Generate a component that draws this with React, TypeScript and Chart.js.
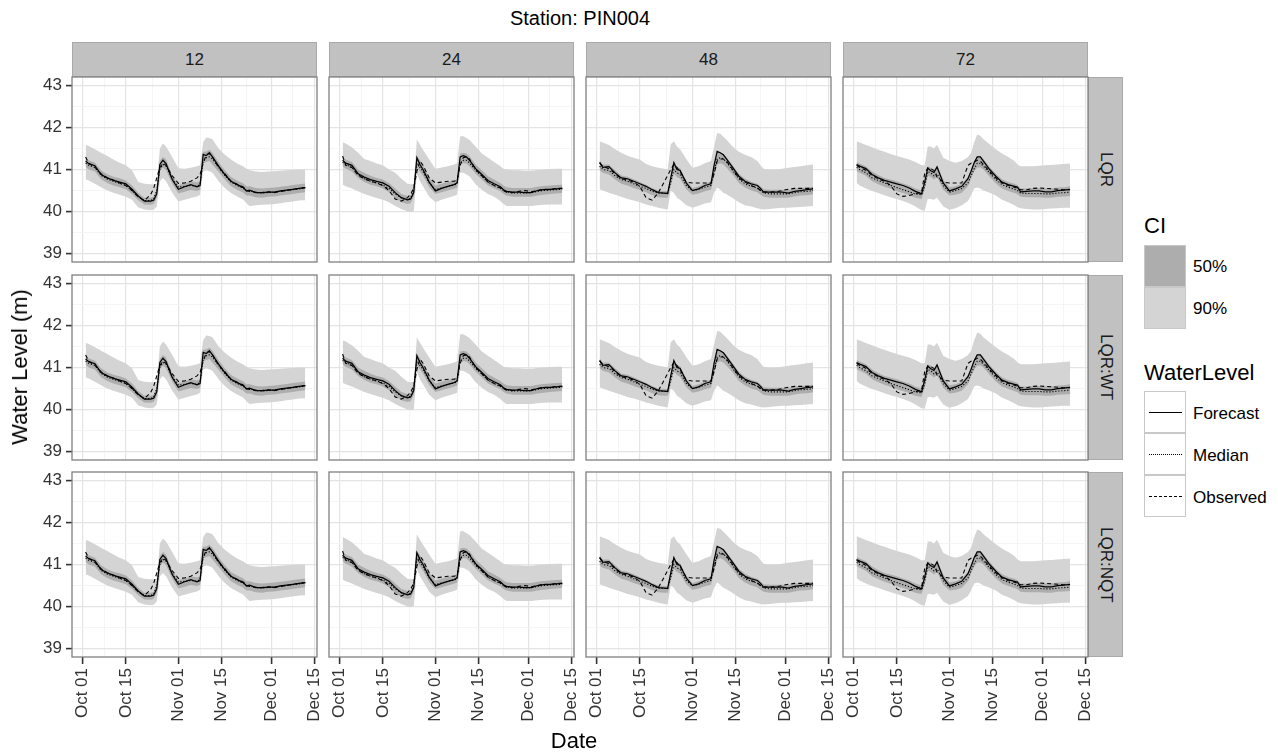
import React, { useEffect, useRef } from "react";
import { Chart, registerables } from "chart.js";

Chart.register(...registerables);

const FONT = '"Liberation Sans", Arial, Helvetica, sans-serif';

// ---------------- data ----------------
const TITLE = "Station: PIN004";
const LEADS = ["12", "24", "48", "72"];
const MODELS = ["LQR", "LQR:WT", "LQR:NQT"];

// days after Oct 01
const DAYS = [
  1, 2, 4, 6, 8, 10, 12, 14, 16, 18,
  20, 22, 23, 24, 25, 26, 27, 29, 31, 33,
  35, 37, 38, 39, 40, 41, 42, 44, 46, 48,
  50, 52, 53, 54, 56, 58, 60, 62, 64, 66,
  68, 70, 72,
];

const X_TICK_VALUES = [0, 14, 31, 45, 61, 75];
const X_TICK_LABELS = ["Oct 01", "Oct 15", "Nov 01", "Nov 15", "Dec 01", "Dec 15"];
const X_MINOR = [7, 22.5, 38, 53, 68];
const Y_TICK_VALUES = [39, 40, 41, 42, 43];
const Y_MINOR = [39.5, 40.5, 41.5, 42.5];

// lead 12
const FC_12 = [41.20, 41.14, 41.09, 40.88, 40.80, 40.74, 40.70, 40.66, 40.53, 40.37, 40.25, 40.25, 40.27, 40.42, 41.12, 41.22, 41.14, 40.76, 40.53, 40.59, 40.64, 40.59, 40.62, 41.36, 41.33, 41.40, 41.30, 41.08, 40.88, 40.72, 40.64, 40.57, 40.49, 40.51, 40.45, 40.45, 40.46, 40.46, 40.49, 40.51, 40.53, 40.55, 40.57];
const MED_12 = [41.15, 41.10, 41.05, 40.86, 40.77, 40.72, 40.67, 40.62, 40.50, 40.35, 40.26, 40.26, 40.30, 40.50, 41.00, 41.12, 41.08, 40.78, 40.58, 40.60, 40.62, 40.60, 40.65, 41.20, 41.28, 41.30, 41.25, 41.05, 40.86, 40.70, 40.62, 40.55, 40.50, 40.50, 40.45, 40.44, 40.45, 40.46, 40.48, 40.50, 40.52, 40.54, 40.56];
const OBS_12 = [41.30, 41.15, 41.05, 40.90, 40.80, 40.75, 40.68, 40.62, 40.50, 40.35, 40.26, 40.40, 40.55, 40.80, 41.05, 41.15, 41.10, 40.85, 40.67, 40.68, 40.72, 40.80, 40.88, 41.15, 41.35, 41.38, 41.30, 41.05, 40.90, 40.72, 40.65, 40.58, 40.50, 40.48, 40.46, 40.45, 40.47, 40.45, 40.48, 40.50, 40.53, 40.55, 40.57];
const HI90_12 = [41.59, 41.56, 41.48, 41.40, 41.32, 41.24, 41.16, 41.10, 40.98, 40.70, 40.66, 40.65, 40.65, 40.66, 41.50, 41.62, 41.55, 41.30, 41.03, 41.02, 41.04, 41.08, 41.10, 41.65, 41.76, 41.75, 41.72, 41.50, 41.35, 41.24, 41.14, 41.07, 41.02, 40.98, 40.95, 40.94, 40.95, 40.96, 40.97, 40.98, 40.99, 41.00, 41.00];
const LO90_12 = [40.77, 40.74, 40.66, 40.58, 40.50, 40.45, 40.40, 40.35, 40.28, 40.10, 40.05, 40.03, 40.04, 40.12, 40.72, 40.80, 40.72, 40.45, 40.24, 40.28, 40.32, 40.36, 40.40, 40.95, 40.98, 40.96, 40.92, 40.72, 40.56, 40.44, 40.36, 40.28, 40.20, 40.13, 40.15, 40.16, 40.17, 40.18, 40.20, 40.22, 40.24, 40.26, 40.27];
const HI50_12 = [41.28, 41.22, 41.16, 40.98, 40.89, 40.83, 40.79, 40.74, 40.62, 40.45, 40.33, 40.33, 40.35, 40.52, 41.20, 41.30, 41.24, 40.86, 40.63, 40.67, 40.72, 40.69, 40.72, 41.42, 41.43, 41.47, 41.40, 41.17, 40.98, 40.82, 40.74, 40.67, 40.60, 40.60, 40.56, 40.55, 40.56, 40.57, 40.59, 40.61, 40.63, 40.65, 40.67];
const LO50_12 = [41.06, 41.00, 40.95, 40.77, 40.68, 40.62, 40.58, 40.53, 40.42, 40.27, 40.17, 40.16, 40.18, 40.33, 40.95, 41.05, 40.98, 40.66, 40.43, 40.47, 40.51, 40.49, 40.52, 41.14, 41.18, 41.20, 41.12, 40.94, 40.76, 40.60, 40.52, 40.45, 40.38, 40.38, 40.34, 40.33, 40.35, 40.36, 40.38, 40.40, 40.42, 40.44, 40.46];

// lead 24
const FC_24 = [41.22, 41.15, 41.10, 40.90, 40.82, 40.76, 40.72, 40.68, 40.60, 40.45, 40.33, 40.28, 40.30, 40.45, 41.28, 41.12, 41.00, 40.70, 40.49, 40.55, 40.60, 40.64, 40.68, 41.30, 41.33, 41.30, 41.22, 41.02, 40.88, 40.74, 40.66, 40.59, 40.52, 40.48, 40.46, 40.46, 40.45, 40.45, 40.50, 40.52, 40.53, 40.54, 40.55];
const MED_24 = [41.17, 41.12, 41.05, 40.88, 40.78, 40.72, 40.68, 40.63, 40.55, 40.42, 40.32, 40.28, 40.32, 40.55, 41.15, 41.05, 40.95, 40.68, 40.52, 40.56, 40.60, 40.63, 40.66, 41.15, 41.22, 41.22, 41.16, 40.98, 40.85, 40.70, 40.62, 40.55, 40.50, 40.47, 40.44, 40.44, 40.44, 40.45, 40.48, 40.50, 40.51, 40.52, 40.53];
const OBS_24 = [41.32, 41.10, 41.05, 40.86, 40.78, 40.72, 40.68, 40.62, 40.50, 40.30, 40.25, 40.33, 40.42, 40.55, 40.95, 41.20, 41.10, 40.80, 40.68, 40.70, 40.72, 40.72, 40.74, 41.10, 41.28, 41.30, 41.25, 41.00, 40.85, 40.70, 40.62, 40.56, 40.50, 40.46, 40.45, 40.48, 40.50, 40.47, 40.50, 40.53, 40.52, 40.55, 40.55];
const HI90_24 = [41.65, 41.62, 41.53, 41.40, 41.25, 41.20, 41.14, 41.10, 41.00, 40.92, 40.78, 40.66, 40.65, 40.66, 41.72, 41.59, 41.47, 41.24, 41.02, 41.05, 41.08, 41.12, 41.15, 41.79, 41.79, 41.75, 41.70, 41.55, 41.38, 41.28, 41.18, 41.08, 41.02, 41.00, 40.98, 40.98, 40.97, 40.97, 40.99, 41.00, 41.01, 41.02, 41.02];
const LO90_24 = [40.64, 40.60, 40.55, 40.48, 40.42, 40.37, 40.32, 40.28, 40.22, 40.13, 40.06, 40.00, 39.99, 40.00, 40.90, 40.72, 40.60, 40.35, 40.22, 40.28, 40.33, 40.37, 40.40, 40.92, 40.92, 40.88, 40.84, 40.65, 40.52, 40.42, 40.35, 40.25, 40.18, 40.13, 40.13, 40.13, 40.13, 40.13, 40.15, 40.16, 40.17, 40.17, 40.17];
const HI50_24 = [41.30, 41.24, 41.18, 41.00, 40.92, 40.85, 40.80, 40.76, 40.68, 40.55, 40.42, 40.37, 40.38, 40.52, 41.32, 41.22, 41.10, 40.80, 40.62, 40.66, 40.70, 40.74, 40.77, 41.38, 41.40, 41.38, 41.32, 41.12, 40.98, 40.84, 40.76, 40.68, 40.62, 40.58, 40.56, 40.56, 40.56, 40.56, 40.59, 40.61, 40.62, 40.63, 40.64];
const LO50_24 = [41.08, 41.02, 40.95, 40.80, 40.70, 40.64, 40.60, 40.55, 40.46, 40.33, 40.22, 40.18, 40.20, 40.35, 41.05, 40.95, 40.85, 40.58, 40.42, 40.46, 40.50, 40.54, 40.57, 41.12, 41.15, 41.14, 41.08, 40.90, 40.76, 40.62, 40.55, 40.48, 40.42, 40.38, 40.35, 40.35, 40.35, 40.35, 40.38, 40.40, 40.42, 40.43, 40.44];

// lead 48
const FC_48 = [41.17, 41.05, 41.07, 40.92, 40.80, 40.78, 40.72, 40.66, 40.60, 40.52, 40.45, 40.44, 40.43, 40.80, 41.16, 41.00, 40.98, 40.68, 40.50, 40.54, 40.62, 40.66, 41.10, 41.43, 41.40, 41.35, 41.25, 41.05, 40.84, 40.72, 40.66, 40.62, 40.55, 40.46, 40.46, 40.46, 40.46, 40.44, 40.48, 40.50, 40.52, 40.54, null];
const MED_48 = [41.08, 41.00, 40.98, 40.85, 40.76, 40.72, 40.66, 40.60, 40.55, 40.48, 40.44, 40.43, 40.43, 40.70, 41.00, 40.92, 40.88, 40.62, 40.50, 40.53, 40.58, 40.62, 40.95, 41.25, 41.28, 41.25, 41.18, 40.98, 40.78, 40.66, 40.60, 40.56, 40.50, 40.45, 40.42, 40.42, 40.42, 40.42, 40.45, 40.47, 40.48, 40.50, null];
const OBS_48 = [41.15, 41.08, 41.02, 40.90, 40.78, 40.75, 40.70, 40.60, 40.33, 40.27, 40.45, 40.72, 40.86, 41.00, 41.12, 41.05, 40.95, 40.70, 40.68, 40.68, 40.68, 40.68, 40.90, 41.20, 41.25, 41.25, 41.20, 41.00, 40.80, 40.70, 40.62, 40.56, 40.50, 40.47, 40.46, 40.47, 40.50, 40.53, 40.55, 40.55, 40.55, 40.55, null];
const HI90_48 = [41.67, 41.64, 41.58, 41.48, 41.40, 41.33, 41.28, 41.24, 41.13, 41.08, 41.04, 41.02, 41.00, 41.60, 41.67, 41.55, 41.48, 41.25, 41.04, 41.08, 41.15, 41.20, 41.55, 41.87, 41.85, 41.78, 41.71, 41.55, 41.42, 41.35, 41.30, 41.20, 41.10, 41.02, 41.00, 41.00, 41.02, 41.04, 41.06, 41.08, 41.10, 41.12, null];
const LO90_48 = [40.53, 40.50, 40.45, 40.40, 40.35, 40.30, 40.26, 40.22, 40.17, 40.13, 40.09, 40.06, 40.05, 40.50, 40.45, 40.33, 40.28, 40.15, 40.09, 40.14, 40.19, 40.22, 40.45, 40.57, 40.52, 40.45, 40.41, 40.32, 40.22, 40.15, 40.12, 40.08, 40.06, 40.05, 40.06, 40.08, 40.09, 40.09, 40.10, 40.11, 40.12, 40.13, null];
const HI50_48 = [41.22, 41.12, 41.12, 40.98, 40.86, 40.83, 40.77, 40.70, 40.64, 40.56, 40.50, 40.49, 40.48, 40.85, 41.22, 41.06, 41.03, 40.74, 40.56, 40.60, 40.67, 40.71, 41.12, 41.42, 41.40, 41.37, 41.30, 41.10, 40.90, 40.78, 40.71, 40.66, 40.60, 40.53, 40.52, 40.52, 40.52, 40.51, 40.54, 40.56, 40.57, 40.59, null];
const LO50_48 = [40.98, 40.92, 40.88, 40.76, 40.66, 40.62, 40.56, 40.51, 40.46, 40.39, 40.34, 40.33, 40.33, 40.60, 40.90, 40.82, 40.78, 40.53, 40.40, 40.43, 40.48, 40.52, 40.82, 41.12, 41.15, 41.12, 41.05, 40.88, 40.68, 40.57, 40.50, 40.46, 40.40, 40.35, 40.33, 40.33, 40.33, 40.33, 40.36, 40.38, 40.39, 40.41, null];

// lead 72
const FC_72 = [41.12, 41.08, 41.02, 40.88, 40.80, 40.74, 40.70, 40.66, 40.62, 40.56, 40.48, 40.42, 40.70, 41.03, 40.97, 40.93, 41.06, 40.68, 40.49, 40.54, 40.60, 40.78, 40.96, 41.16, 41.30, 41.30, 41.20, 41.00, 40.84, 40.70, 40.64, 40.60, 40.58, 40.47, 40.48, 40.49, 40.49, 40.47, 40.47, 40.50, 40.51, 40.53, null];
const MED_72 = [41.05, 41.00, 40.92, 40.80, 40.74, 40.68, 40.62, 40.57, 40.52, 40.47, 40.42, 40.40, 40.60, 40.95, 40.92, 40.85, 40.90, 40.62, 40.46, 40.50, 40.55, 40.68, 40.85, 41.02, 41.15, 41.15, 41.08, 40.92, 40.76, 40.64, 40.58, 40.53, 40.50, 40.44, 40.43, 40.43, 40.43, 40.42, 40.42, 40.44, 40.45, 40.46, null];
const OBS_72 = [41.10, 41.05, 40.98, 40.86, 40.78, 40.72, 40.62, 40.42, 40.36, 40.38, 40.42, 40.46, 40.90, 41.04, 41.02, 40.98, 40.82, 40.70, 40.68, 40.68, 40.68, 41.10, 41.15, 41.18, 41.22, 41.20, 41.12, 40.95, 40.80, 40.68, 40.62, 40.58, 40.55, 40.52, 40.52, 40.55, 40.56, 40.55, 40.54, 40.53, 40.52, 40.52, null];
const HI90_72 = [41.67, 41.64, 41.58, 41.53, 41.47, 41.42, 41.37, 41.32, 41.28, 41.24, 41.18, 41.10, 41.10, 41.55, 41.55, 41.50, 41.59, 41.28, 41.20, 41.16, 41.20, 41.30, 41.40, 41.65, 41.83, 41.80, 41.72, 41.60, 41.48, 41.38, 41.30, 41.20, 41.12, 41.08, 41.08, 41.08, 41.09, 41.10, 41.11, 41.12, 41.13, 41.14, null];
const LO90_72 = [40.68, 40.62, 40.55, 40.49, 40.44, 40.39, 40.34, 40.30, 40.25, 40.20, 40.12, 40.03, 40.02, 40.30, 40.30, 40.28, 40.33, 40.12, 40.04, 40.08, 40.15, 40.25, 40.38, 40.55, 40.57, 40.55, 40.50, 40.45, 40.38, 40.28, 40.22, 40.15, 40.10, 40.08, 40.06, 40.05, 40.05, 40.06, 40.07, 40.08, 40.09, 40.09, null];
const HI50_72 = [41.18, 41.14, 41.08, 40.95, 40.87, 40.80, 40.76, 40.72, 40.67, 40.62, 40.55, 40.50, 40.75, 41.08, 41.04, 40.98, 41.10, 40.76, 40.58, 40.60, 40.66, 40.82, 41.00, 41.18, 41.32, 41.33, 41.25, 41.06, 40.90, 40.77, 40.70, 40.66, 40.63, 40.55, 40.55, 40.56, 40.56, 40.55, 40.55, 40.57, 40.58, 40.60, null];
const LO50_72 = [40.96, 40.92, 40.85, 40.72, 40.65, 40.59, 40.54, 40.48, 40.44, 40.39, 40.33, 40.30, 40.52, 40.85, 40.82, 40.76, 40.82, 40.52, 40.38, 40.40, 40.45, 40.60, 40.78, 40.95, 41.05, 41.05, 41.00, 40.83, 40.67, 40.55, 40.49, 40.44, 40.41, 40.35, 40.34, 40.34, 40.34, 40.33, 40.33, 40.35, 40.36, 40.37, null];

const FORECAST = [FC_12, FC_24, FC_48, FC_72];
const MEDIAN = [MED_12, MED_24, MED_48, MED_72];
const OBSERVED = [OBS_12, OBS_24, OBS_48, OBS_72];
const HI90 = [HI90_12, HI90_24, HI90_48, HI90_72];
const LO90 = [LO90_12, LO90_24, LO90_48, LO90_72];
const HI50 = [HI50_12, HI50_24, HI50_48, HI50_72];
const LO50 = [LO50_12, LO50_24, LO50_48, LO50_72];

// ---------------- layout / style ----------------
const X_MIN = -3.4;
const X_MAX = 75.8;
const Y_MIN = 38.8;
const Y_MAX = 43.2;
const PLOT_W = 245;
const PLOT_H = 185;
const COL_X = [72, 329, 586, 843];
const ROW_Y = [77, 275, 472];
const Y_AXIS_W = 72;
const X_AXIS_H = 72;
const PAD = 2;
const C90 = "#d4d4d4";
const C50 = "#adadad";
const STRIP_BG = "#c1c1c1";
const STRIP_BORDER = "#a9a9a9";

const series = (vals: (number | null)[]) => DAYS.map((d, i) => ({ x: d, y: vals[i] }));

const borderPlugin = {
  id: "panelBorder",
  afterDraw(chart: any) {
    const { ctx, chartArea: a } = chart;
    ctx.save();
    ctx.strokeStyle = "#808080";
    ctx.lineWidth = 1.3;
    ctx.strokeRect(a.left, a.top, a.right - a.left, a.bottom - a.top);
    ctx.restore();
  },
};

function Panel({ col, row }: { col: number; row: number }) {
  const ref = useRef<HTMLCanvasElement | null>(null);
  const showY = col === 0;
  const showX = row === 2;
  const yW = showY ? Y_AXIS_W : 0;
  const xH = showX ? X_AXIS_H : 0;
  const w = PLOT_W + yW + 2 * PAD;
  const h = PLOT_H + xH + 2 * PAD;
  const left = COL_X[col] - yW - PAD;
  const top = ROW_Y[row] - PAD;

  useEffect(() => {
    if (!ref.current) return;
    const isMajorX = (c: any) => c.tick && X_TICK_VALUES.indexOf(c.tick.value) >= 0;
    const isMajorY = (c: any) => c.tick && Y_TICK_VALUES.indexOf(c.tick.value) >= 0;
    const band = (vals: (number | null)[], color: string, fill: boolean, order: number) => ({
      data: series(vals),
      borderWidth: 0,
      borderColor: "rgba(0,0,0,0)",
      backgroundColor: color,
      pointRadius: 0,
      fill: fill ? "+1" : false,
      tension: 0,
      order,
    });
    const line = (vals: (number | null)[], dash: number[], width: number, order: number) => ({
      data: series(vals),
      borderWidth: width,
      borderColor: "#000",
      borderDash: dash,
      pointRadius: 0,
      fill: false,
      tension: 0,
      order,
    });
    const chart = new Chart(ref.current, {
      type: "line",
      data: {
        datasets: [
          band(HI90[col], C90, true, 6) as any,
          band(LO90[col], C90, false, 6),
          band(HI50[col], C50, true, 5),
          band(LO50[col], C50, false, 5),
          line(MEDIAN[col], [1.2, 1.8], 1.1, 3),
          line(OBSERVED[col], [4, 3], 1.1, 2),
          line(FORECAST[col], [], 1.25, 1),
        ],
      },
      options: {
        animation: false,
        responsive: false,
        devicePixelRatio: 1,
        events: [],
        layout: { padding: PAD },
        plugins: { legend: { display: false }, tooltip: { enabled: false } },
        scales: {
          x: {
            type: "linear",
            min: X_MIN,
            max: X_MAX,
            bounds: "data",
            afterBuildTicks: (s: any) => {
              s.ticks = [...X_TICK_VALUES, ...X_MINOR].sort((a, b) => a - b).map((v) => ({ value: v }));
            },
            afterFit: (s: any) => {
              s.height = xH;
              s.paddingLeft = 0;
              s.paddingRight = 0;
            },
            ticks: {
              display: showX,
              autoSkip: false,
              minRotation: 90,
              maxRotation: 90,
              padding: 4,
              color: "#333",
              font: { family: FONT, size: 17 },
              callback: (v: any) => {
                const i = X_TICK_VALUES.indexOf(Number(v));
                return i >= 0 ? X_TICK_LABELS[i] : "";
              },
            },
            grid: {
              color: (c: any) => (isMajorX(c) ? "#e4e4e4" : "#f2f2f2"),
              lineWidth: (c: any) => (isMajorX(c) ? 1.2 : 0.8),
              drawTicks: showX,
              tickLength: 7,
              tickWidth: 1.6,
              tickColor: (c: any) => (isMajorX(c) ? "#333" : "rgba(0,0,0,0)"),
            },
            border: { display: false },
          },
          y: {
            type: "linear",
            min: Y_MIN,
            max: Y_MAX,
            bounds: "data",
            afterBuildTicks: (s: any) => {
              s.ticks = [...Y_TICK_VALUES, ...Y_MINOR].sort((a, b) => a - b).map((v) => ({ value: v }));
            },
            afterFit: (s: any) => {
              s.width = yW;
              s.paddingTop = 0;
              s.paddingBottom = 0;
            },
            ticks: {
              display: showY,
              autoSkip: false,
              padding: 4,
              color: "#333",
              font: { family: FONT, size: 17 },
              callback: (v: any) => (Y_TICK_VALUES.indexOf(Number(v)) >= 0 ? String(v) : ""),
            },
            grid: {
              color: (c: any) => (isMajorY(c) ? "#e4e4e4" : "#f2f2f2"),
              lineWidth: (c: any) => (isMajorY(c) ? 1.2 : 0.8),
              drawTicks: showY,
              tickLength: 6,
              tickWidth: 1.6,
              tickColor: (c: any) => (isMajorY(c) ? "#333" : "rgba(0,0,0,0)"),
            },
            border: { display: false },
          },
        },
      } as any,
      plugins: [borderPlugin],
    });
    return () => chart.destroy();
  }, [col, row]);

  return (
    <canvas
      ref={ref}
      width={w}
      height={h}
      style={{ position: "absolute", left, top, width: w, height: h }}
    />
  );
}

export default function App() {
  const panels: JSX.Element[] = [];
  for (let r = 0; r < MODELS.length; r++) {
    for (let c = 0; c < LEADS.length; c++) {
      panels.push(<Panel key={`${r}-${c}`} col={c} row={r} />);
    }
  }
  const text: React.CSSProperties = { position: "absolute", whiteSpace: "nowrap", color: "#000", lineHeight: 1 };
  const keyBox: React.CSSProperties = {
    position: "absolute",
    left: 1144,
    width: 42,
    height: 42,
    boxSizing: "border-box",
    border: "1.5px solid #c8c8c8",
  };
  return (
    <div
      style={{
        position: "fixed",
        left: 0,
        top: 0,
        width: 1278,
        height: 753,
        background: "#fff",
        fontFamily: FONT,
        overflow: "hidden",
      }}
    >
      {/* title */}
      <div style={{ ...text, left: 580, top: 8, fontSize: 20, transform: "translateX(-50%)" }}>{TITLE}</div>

      {/* top strips */}
      {LEADS.map((l, c) => (
        <div
          key={l}
          style={{
            position: "absolute",
            left: COL_X[c],
            top: 42,
            width: PLOT_W,
            height: 35,
            boxSizing: "border-box",
            background: STRIP_BG,
            border: `1px solid ${STRIP_BORDER}`,
            display: "flex",
            alignItems: "center",
            justifyContent: "center",
            fontSize: 17,
            color: "#1a1a1a",
          }}
        >
          {l}
        </div>
      ))}

      {/* right strips */}
      {MODELS.map((m, r) => (
        <div
          key={m}
          style={{
            position: "absolute",
            left: COL_X[3] + PLOT_W,
            top: ROW_Y[r],
            width: 35,
            height: PLOT_H,
            boxSizing: "border-box",
            background: STRIP_BG,
            border: `1px solid ${STRIP_BORDER}`,
            display: "flex",
            alignItems: "center",
            justifyContent: "center",
            fontSize: 17,
            color: "#1a1a1a",
          }}
        >
          <span style={{ writingMode: "vertical-rl" }}>{m}</span>
        </div>
      ))}

      {panels}

      {/* axis titles */}
      <div
        style={{
          ...text,
          left: 20,
          top: 367,
          fontSize: 22,
          transform: "translate(-50%, -50%) rotate(-90deg)",
        }}
      >
        Water Level (m)
      </div>
      <div style={{ ...text, left: 574, top: 741, fontSize: 22, transform: "translate(-50%, -50%)" }}>Date</div>

      {/* legend: CI */}
      <div style={{ ...text, left: 1144, top: 215, fontSize: 22 }}>CI</div>
      <div style={{ ...keyBox, top: 245, background: C50 }} />
      <div style={{ ...keyBox, top: 287, background: C90 }} />
      <div style={{ ...text, left: 1193, top: 266, fontSize: 17, transform: "translateY(-50%)" }}>50%</div>
      <div style={{ ...text, left: 1193, top: 308, fontSize: 17, transform: "translateY(-50%)" }}>90%</div>

      {/* legend: WaterLevel */}
      <div style={{ ...text, left: 1144, top: 362, fontSize: 22 }}>WaterLevel</div>
      {[
        { label: "Forecast", style: "solid" },
        { label: "Median", style: "dotted" },
        { label: "Observed", style: "dashed" },
      ].map((k, i) => (
        <React.Fragment key={k.label}>
          <div style={{ ...keyBox, top: 391 + i * 42, background: "#fff" }} />
          <div
            style={{
              position: "absolute",
              left: 1149,
              top: 412 + i * 42,
              width: 33,
              height: 0,
              borderTop: `1px ${k.style} #000`,
            }}
          />
          <div style={{ ...text, left: 1193, top: 413 + i * 42, fontSize: 17, transform: "translateY(-50%)" }}>
            {k.label}
          </div>
        </React.Fragment>
      ))}
    </div>
  );
}
